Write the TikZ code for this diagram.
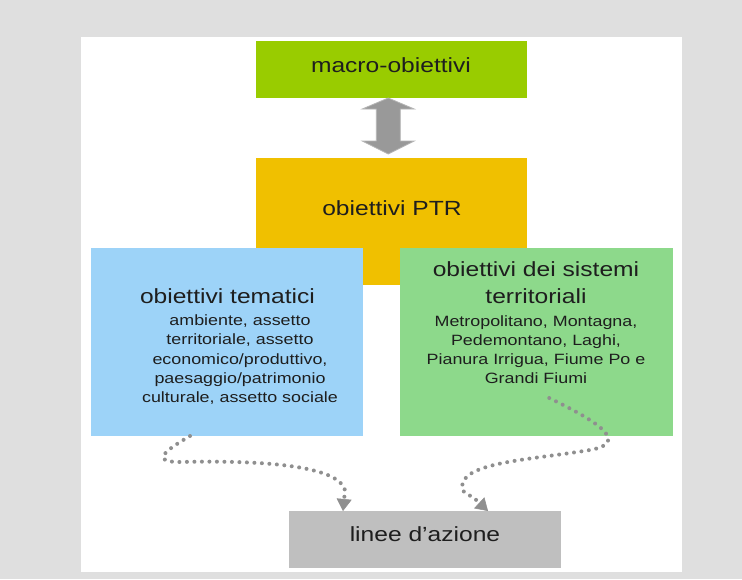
\documentclass[tikz,border=0pt]{standalone}
\usepackage{fontspec}
\setmainfont[FakeStretch=1.2]{Liberation Sans}
\usetikzlibrary{arrows.meta,calc}
\definecolor{bggray}{HTML}{DFDFDF}
\definecolor{macrogreen}{HTML}{99CC00}
\definecolor{ptrgold}{HTML}{F0C000}
\definecolor{temblue}{HTML}{9DD3F8}
\definecolor{sysgreen}{HTML}{8DD98B}
\definecolor{actiongray}{HTML}{BFBFBF}
\definecolor{dotgray}{HTML}{8F8F8F}
\definecolor{arrowgray}{HTML}{999999}
\definecolor{arrowedge}{HTML}{B5B5B5}
\definecolor{textdark}{HTML}{1E1E1E}
\begin{document}
\begin{tikzpicture}[x=1pt,y=-1pt,
  box/.style={rectangle, draw=none, inner sep=0pt, outer sep=0pt},
  titletext/.style={anchor=base, inner sep=0pt, font=\fontsize{20.5}{25}\selectfont, text=textdark},
  smalltext/.style={anchor=base, inner sep=0pt, font=\fontsize{14.9}{19}\selectfont, text=textdark},
  dotarrow/.style={draw=dotgray, line width=4pt, line cap=round, dash pattern=on 0pt off 7.5pt,
    -{Triangle[width=15pt,length=12pt,line width=0.5pt,fill=dotgray]}}
]
\useasboundingbox (0,0) rectangle (742,579);
\fill[bggray] (0,0) rectangle (742,579);
\fill[white] (81,37) rectangle (682,572);

% boxes
\node[box, fill=macrogreen, minimum width=271.5pt, minimum height=57.4pt] (macro) at (391.25,69.3) {};
\node[box, fill=ptrgold, minimum width=271.5pt, minimum height=127pt] (ptr) at (391.25,221.5) {};
\node[box, fill=temblue, minimum width=272pt, minimum height=188pt] (tem) at (227,342) {};
\node[box, fill=sysgreen, minimum width=272.5pt, minimum height=188pt] (sys) at (536.25,342) {};
\node[box, fill=actiongray, minimum width=272pt, minimum height=57pt] (action) at (425,539.5) {};

% double arrow between macro and ptr
\coordinate (dt) at ($(macro.south)+(-3,0)$);
\coordinate (db) at ($(ptr.north)+(-3,-4)$);
\draw[fill=arrowgray, draw=arrowedge, line width=0.8pt, line join=miter]
  (dt) -- ++(26,11) -- ++(-14,0) -- ($(db)+(12,-13)$) -- ++(14,0) -- (db)
  -- ++(-26,-13) -- ++(14,0) -- ($(dt)+(-12,11)$) -- ++(-14,0) -- cycle;

% dotted connectors
\draw[dotarrow] ($(tem.south)+(-37,0)$) .. controls (168,449) and (148,462) .. (180,462)
  .. controls (265,460) and (338,466) .. (345,490) -- ($(action.north)+(-82,0)$);
\draw[dotarrow] ($(sys.center)+(13,56)$) .. controls (590,418) and (634,442) .. (590,450)
  .. controls (530,460) and (462,462) .. (462,487)
  .. controls (462,492) and (466,494) .. (473,497) -- ($(action.north)+(63,0)$);

% texts
\node[titletext] (tmacro) at (391,72) {macro-obiettivi};
\node[titletext] (tptr) at (392,215.5) {obiettivi PTR};
\node[titletext] (ttem) at (227.5,303.5) {obiettivi tematici};
\node[smalltext] (tem1) at (240,325.5) {ambiente, assetto};
\node[smalltext] (tem2) at (240,344.8) {territoriale, assetto};
\node[smalltext] (tem3) at (240,364.1) {economico/produttivo,};
\node[smalltext] (tem4) at (240,383.4) {paesaggio/patrimonio};
\node[smalltext] (tem5) at (240,402.7) {culturale, assetto sociale};
\node[titletext] (tsys1) at (536,276.7) {obiettivi dei sistemi};
\node[titletext] (tsys2) at (536,303) {territoriali};
\node[smalltext] (sys1) at (536,326) {Metropolitano, Montagna,};
\node[smalltext] (sys2) at (536,345.2) {Pedemontano, Laghi,};
\node[smalltext] (sys3) at (536,364.4) {Pianura Irrigua, Fiume Po e};
\node[smalltext] (sys4) at (536,383.6) {Grandi Fiumi};
\node[titletext] (taction) at (425,541) {linee d’azione};
\end{tikzpicture}
\end{document}
